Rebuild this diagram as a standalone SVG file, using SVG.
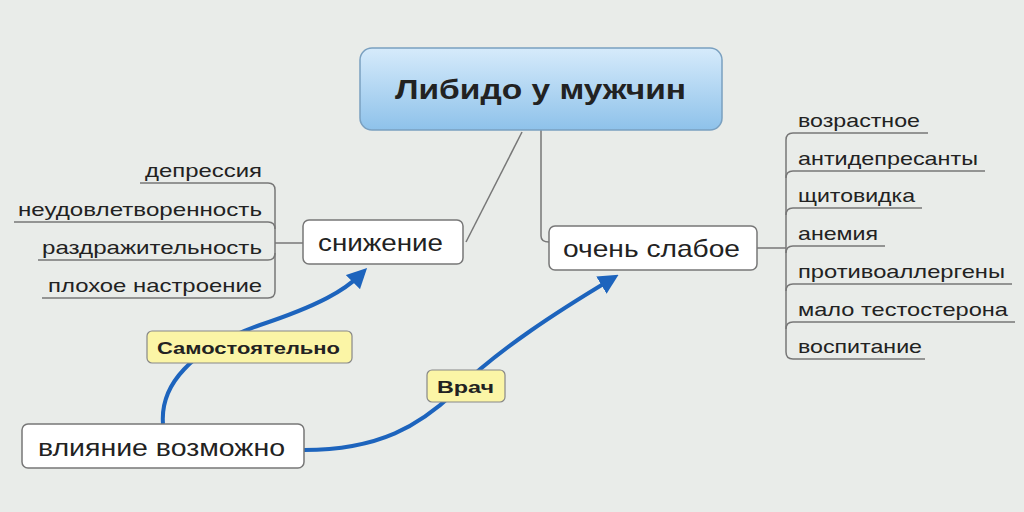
<svg xmlns="http://www.w3.org/2000/svg" width="1024" height="512" viewBox="0 0 1024 512">
<defs>
<linearGradient id="g" x1="0" y1="0" x2="0" y2="1"><stop offset="0" stop-color="#d6ebfb"/><stop offset="1" stop-color="#8ec2ea"/></linearGradient>
<marker id="ah" markerWidth="5" markerHeight="5" refX="2.5" refY="2.5" orient="auto" markerUnits="strokeWidth"><path d="M0,0 L5,2.5 L0,5 Z" fill="#1d64bd"/></marker>
<style>
text{font-family:"Liberation Sans",Arial,sans-serif;fill:#222}
.box{fill:#fff;stroke:#777;stroke-width:1.5}
.lab{fill:#fbf5a6;stroke:#888;stroke-width:1.2}
.ln{fill:none;stroke:#777;stroke-width:1.5}
.leaf{font-size:19px}
.blue{fill:none;stroke:#1d64bd;stroke-width:4;marker-end:url(#ah)}
</style>
</defs>
<rect width="1024" height="512" fill="#e9ece9"/>
<g id="connectors">
<path class="ln" d="M522,132 L466,242"/>
<path class="ln" d="M541,130 V236 Q541,242 549,242"/>
<path class="ln" d="M275,243 H303"/>
<path class="ln" d="M140,183 H268 Q275,183 275,190 V291 Q275,298 268,298 H42"/>
<path class="ln" d="M14,222 H268 Q275,222 275,229"/>
<path class="ln" d="M38,260 H268 Q275,260 275,253"/>
<path class="ln" d="M757,248 H786"/>
<path class="ln" d="M928,133 H793 Q786,133 786,140 V352 Q786,359 793,359 H925"/>
<path class="ln" d="M985,171 H793 Q786,171 786,178"/>
<path class="ln" d="M922,208 H793 Q786,208 786,215"/>
<path class="ln" d="M885,246 H793 Q786,246 786,253"/>
<path class="ln" d="M1012,284 H793 Q786,284 786,291"/>
<path class="ln" d="M1015,322 H793 Q786,322 786,329"/>
<path class="blue" d="M163,424 C160,385 190,350 260,325 C320,305 345,290 360,275"/>
<path class="blue" d="M304,450 C380,450 420,425 455,392 C500,348 560,310 610,280"/>
</g>
<g id="root"><rect x="360" y="48" width="362" height="82" rx="12" fill="url(#g)" stroke="#7aa0c0" stroke-width="1.5"/><text x="395" y="99" font-size="27" font-weight="bold" textLength="291" lengthAdjust="spacingAndGlyphs">Либидо у мужчин</text></g>
<g id="snizhenie"><rect class="box" x="303" y="220" width="160" height="44" rx="6"/><text x="318" y="251" font-size="24" textLength="125" lengthAdjust="spacingAndGlyphs">снижение</text></g>
<g id="slaboe"><rect class="box" x="549" y="226" width="208" height="44" rx="6"/><text x="563" y="257" font-size="24" textLength="177" lengthAdjust="spacingAndGlyphs">очень слабое</text></g>
<g id="vliyanie"><rect class="box" x="22" y="424" width="282" height="44" rx="6"/><text x="38" y="456" font-size="24" textLength="247" lengthAdjust="spacingAndGlyphs">влияние возможно</text></g>
<g id="label-sam"><rect class="lab" x="147" y="331" width="205" height="32" rx="5"/><text x="157" y="354" font-size="17" font-weight="bold" textLength="183" lengthAdjust="spacingAndGlyphs">Самостоятельно</text></g>
<g id="label-vrach"><rect class="lab" x="427" y="370" width="78" height="32" rx="5"/><text x="437" y="393" font-size="17" font-weight="bold" textLength="57" lengthAdjust="spacingAndGlyphs">Врач</text></g>
<g id="left-leaves" class="leaf">
<text x="145" y="177" textLength="117" lengthAdjust="spacingAndGlyphs">депрессия</text>
<text x="18" y="216" textLength="244" lengthAdjust="spacingAndGlyphs">неудовлетворенность</text>
<text x="42" y="254" textLength="220" lengthAdjust="spacingAndGlyphs">раздражительность</text>
<text x="48" y="292" textLength="214" lengthAdjust="spacingAndGlyphs">плохое настроение</text>
</g>
<g id="right-leaves" class="leaf">
<text x="798" y="127" textLength="122" lengthAdjust="spacingAndGlyphs">возрастное</text>
<text x="798" y="165" textLength="180" lengthAdjust="spacingAndGlyphs">антидепресанты</text>
<text x="798" y="202" textLength="117" lengthAdjust="spacingAndGlyphs">щитовидка</text>
<text x="798" y="240" textLength="80" lengthAdjust="spacingAndGlyphs">анемия</text>
<text x="798" y="278" textLength="207" lengthAdjust="spacingAndGlyphs">противоаллергены</text>
<text x="798" y="316" textLength="210" lengthAdjust="spacingAndGlyphs">мало тестостерона</text>
<text x="798" y="353" textLength="124" lengthAdjust="spacingAndGlyphs">воспитание</text>
</g>
</svg>
